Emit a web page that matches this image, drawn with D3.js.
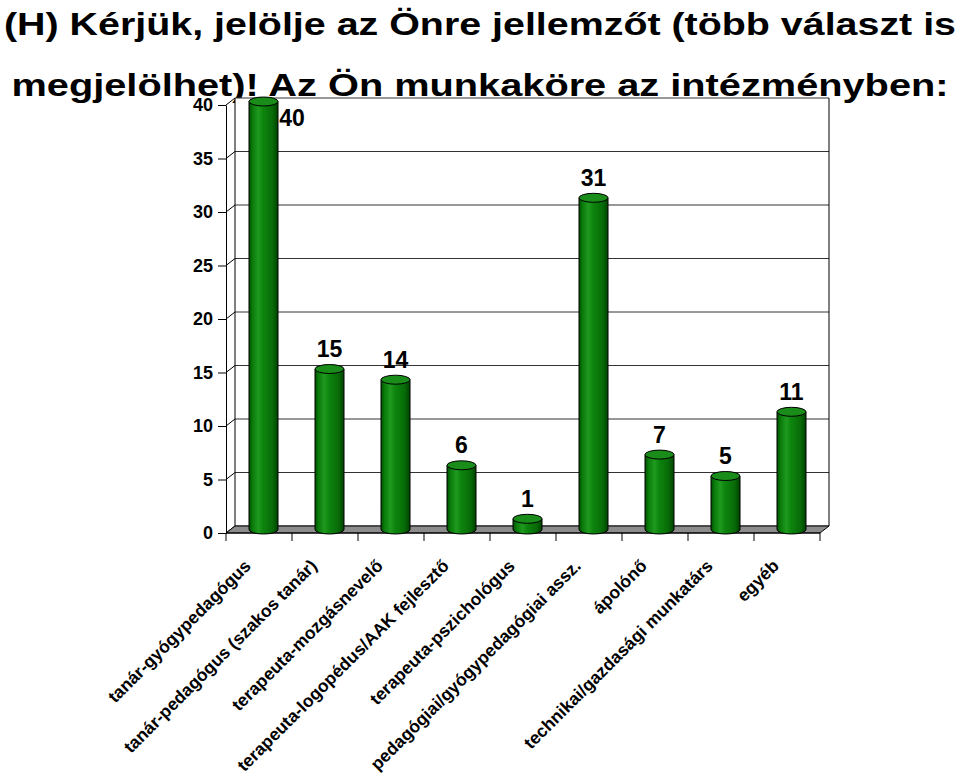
<!DOCTYPE html>
<html>
<head>
<meta charset="utf-8">
<script src="https://cdn.jsdelivr.net/npm/d3@7"></script>
<style>
  html, body { margin: 0; padding: 0; background: #fff; }
  svg { display: block; font-family: "Liberation Sans", Arial, Helvetica, sans-serif; }
</style>
</head>
<body>
<svg id="chart" width="960" height="779"></svg>
<script>
const titleLines = [
  "(H) Kérjük, jelölje az Önre jellemzőt (több választ is",
  "megjelölhet)! Az Ön munkaköre az intézményben:"
];
const categories = [
  "tanár-gyógypedagógus",
  "tanár-pedagógus (szakos tanár)",
  "terapeuta-mozgásnevelő",
  "terapeuta-logopédus/AAK fejlesztő",
  "terapeuta-pszichológus",
  "pedagógiai/gyógypedagógiai assz.",
  "ápolónő",
  "technikai/gazdasági munkatárs",
  "egyéb"
];
const values = [40, 15, 14, 6, 1, 31, 7, 5, 11];
const yTicks = [0, 5, 10, 15, 20, 25, 30, 35, 40];

const svg = d3.select("#chart");

// layout
const pLeft = 226, pRight = 820, pBottom = 533, pTop = 105;
const dX = 9, dY = -7;          // depth offset of back wall
const mX = dX / 2, mY = dY / 2; // bars sit at mid depth

const x = d3.scaleBand().domain(categories).range([pLeft, pRight]).paddingInner(0).paddingOuter(0);
const y = d3.scaleLinear().domain([0, 40]).range([pBottom, pTop]);

// title (drawn first, chart overlaps it); text is horizontally stretched in the original
const titleWidths = [952, 937];
svg.append("g").selectAll("text").data(titleLines).join("text")
  .attr("x", 480)
  .attr("y", (d, i) => 35 + i * 61)
  .attr("text-anchor", "middle")
  .attr("font-size", 31)
  .attr("font-weight", "bold")
  .attr("fill", "#000")
  .attr("textLength", (d, i) => titleWidths[i])
  .attr("lengthAdjust", "spacingAndGlyphs")
  .text(d => d);

const g = svg.append("g");

// back wall background
g.append("rect")
  .attr("x", pLeft + dX).attr("y", y(40) + dY)
  .attr("width", pRight - pLeft).attr("height", y(0) - y(40))
  .attr("fill", "#fff");

// gridlines on back wall
g.append("g").selectAll("line").data(yTicks).join("line")
  .attr("x1", pLeft + dX).attr("x2", pRight + dX)
  .attr("y1", d => y(d) + dY).attr("y2", d => y(d) + dY)
  .attr("stroke", "#333").attr("stroke-width", 1);

// diagonal connectors on side wall
g.append("g").selectAll("line").data(yTicks).join("line")
  .attr("x1", pLeft).attr("x2", pLeft + dX)
  .attr("y1", d => y(d)).attr("y2", d => y(d) + dY)
  .attr("stroke", "#000").attr("stroke-width", 1);

// back wall verticals
[pLeft + dX, pRight + dX].forEach(xx => {
  g.append("line")
    .attr("x1", xx).attr("x2", xx)
    .attr("y1", y(40) + dY).attr("y2", y(0) + dY)
    .attr("stroke", "#000").attr("stroke-width", 1);
});

// floor
g.append("path")
  .attr("d", `M${pLeft},${y(0)} L${pRight},${y(0)} L${pRight + dX},${y(0) + dY} L${pLeft + dX},${y(0) + dY} Z`)
  .attr("fill", "#8c8c8c").attr("stroke", "#000").attr("stroke-width", 1);

// y axis
const yAxis = d3.axisLeft(y).tickValues(yTicks).tickSize(8).tickPadding(5).tickSizeOuter(0);
const yg = g.append("g").attr("transform", `translate(${pLeft},0)`).call(yAxis);
yg.select(".domain").attr("stroke", "#000");
yg.selectAll(".tick line").attr("stroke", "#000");
yg.selectAll(".tick text")
  .attr("font-size", 18).attr("font-weight", "bold")
  .attr("font-family", "'Liberation Sans', Arial, sans-serif").attr("fill", "#000");

// x axis line + ticks at band boundaries
g.append("line").attr("x1", pLeft).attr("x2", pRight).attr("y1", y(0)).attr("y2", y(0))
  .attr("stroke", "#000");
const bounds = categories.map(c => x(c)).concat([x.range()[1]]);
g.append("g").selectAll("line").data(bounds).join("line")
  .attr("x1", d => d).attr("x2", d => d)
  .attr("y1", y(0)).attr("y2", y(0) + 8)
  .attr("stroke", "#000");

// category labels
g.append("g").selectAll("text").data(categories).join("text")
  .attr("transform", d => `translate(${x(d) + x.bandwidth() / 2 - 7},${y(0) + 34}) rotate(-45)`)
  .attr("text-anchor", "end")
  .attr("font-size", 17.5).attr("font-weight", "bold").attr("fill", "#000")
  .text(d => d);

// gradient for cylinders
const defs = svg.append("defs");
const grad = defs.append("linearGradient").attr("id", "cyl").attr("x1", "0").attr("x2", "1").attr("y1", "0").attr("y2", "0");
[[0, "#004d00"], [0.12, "#0a7a0a"], [0.32, "#1f9a1f"], [0.5, "#0d830d"], [0.8, "#086c08"], [1, "#004400"]]
  .forEach(([o, c]) => grad.append("stop").attr("offset", o).attr("stop-color", c));

const bw = 29, rx = bw / 2, ry = 4.5;
const bars = g.append("g").selectAll("g").data(values.map((v, i) => ({ v, c: categories[i] }))).join("g");
bars.each(function (d) {
  const cx = x(d.c) + x.bandwidth() / 2 + mX;
  const yb = y(0) + mY, yt = y(d.v) + mY;
  const s = d3.select(this);
  s.append("path")
    .attr("d", `M${cx - rx},${yt} L${cx - rx},${yb} A${rx},${ry} 0 0 0 ${cx + rx},${yb} L${cx + rx},${yt} Z`)
    .attr("fill", "url(#cyl)").attr("stroke", "#000").attr("stroke-width", 1);
  s.append("ellipse")
    .attr("cx", cx).attr("cy", yt).attr("rx", rx).attr("ry", ry)
    .attr("fill", "#1a8c1a").attr("stroke", "#000").attr("stroke-width", 1);
  const topLimit = y(40) + dY;
  let lx = cx, ly = yt - 12;
  if (ly - 17 < topLimit) { lx = cx + rx + 14; ly = yt + 24; }
  s.append("text")
    .attr("x", lx).attr("y", ly)
    .attr("text-anchor", "middle")
    .attr("font-size", 23).attr("font-weight", "bold").attr("fill", "#000")
    .text(d.v);
});
</script>
</body>
</html>
